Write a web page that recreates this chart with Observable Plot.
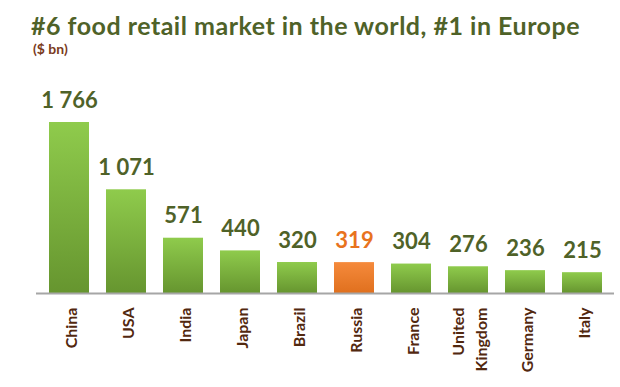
<!DOCTYPE html>
<html>
<head>
<meta charset="utf-8">
<script src="https://cdn.jsdelivr.net/npm/d3@7"></script>
<script src="https://cdn.jsdelivr.net/npm/@observablehq/plot@0.6"></script>
<style>
  html, body { margin: 0; padding: 0; background: #fff; }
  #wrap { position: relative; width: 620px; height: 387px; font-family: Lato, "Open Sans", sans-serif; }
  #title { position: absolute; left: 31px; top: 13px; font-size: 25px; line-height: 25px; letter-spacing: 0.5px; font-weight: bold; color: #4f6228; white-space: nowrap; }
  #sub { position: absolute; left: 33px; top: 42px; font-size: 14px; line-height: 14px; font-weight: bold; color: #7a3a1c; }
  #chart { position: absolute; left: 0; top: 60px; }
</style>
</head>
<body>
<div id="wrap">
  <div id="title">#6 food retail market in the world, #1 in Europe</div>
  <div id="sub">($ bn)</div>
  <div id="chart"></div>
</div>
<script>
const countries = ["China", "USA", "India", "Japan", "Brazil", "Russia", "France", "United Kingdom", "Germany", "Italy"];
const tickLabels = ["China", "USA", "India", "Japan", "Brazil", "Russia", "France", "United\nKingdom", "Germany", "Italy"];
const values = [1766, 1071, 571, 440, 320, 319, 304, 276, 236, 215];
const highlight = "Russia";

const data = countries.map((c, i) => ({country: c, value: values[i]}));
const fmt = v => d3.format(",")(v).replace(/,/g, " ");

const isHi = d => d.country === highlight;
const notHi = d => d.country !== highlight;

const chart = Plot.plot({
  width: 620,
  height: 327,
  marginLeft: 36,
  marginRight: 6,
  marginTop: 62,
  marginBottom: 94,
  style: {fontFamily: "Lato, 'Open Sans', sans-serif", background: "transparent"},
  x: {domain: countries, paddingInner: 0.3, paddingOuter: 0.15, axis: null},
  y: {domain: [0, 1766], axis: null},
  marks: [
    Plot.barY(data, {filter: notHi, x: "country", y: "value", fill: "url(#gGreen)"}),
    Plot.barY(data, {filter: isHi, x: "country", y: "value", fill: "url(#gOrange)"}),
    Plot.ruleY([0], {stroke: "#a6a6a6", strokeWidth: 2}),
    Plot.text(data, {filter: notHi, x: "country", y: "value", text: d => fmt(d.value), dy: -15, lineAnchor: "bottom", fontSize: 22, fontWeight: "bold", fill: "#4f6228"}),
    Plot.text(data, {filter: isHi, x: "country", y: "value", text: d => fmt(d.value), dy: -15, lineAnchor: "bottom", fontSize: 22, fontWeight: "bold", fill: "#e8731e"}),
    Plot.axisX({
      tickRotate: -90,
      tickSize: 0,
      tickPadding: 14,
      fontSize: 16,
      fontWeight: "bold",
      fill: "#52280f",
      lineHeight: 1.4,
      label: null,
      tickFormat: d => tickLabels[countries.indexOf(d)]
    })
  ]
});

const svg = d3.select(chart);
const defs = svg.insert("defs", ":first-child");
const g1 = defs.append("linearGradient").attr("id", "gGreen").attr("x1", 0).attr("y1", 0).attr("x2", 0).attr("y2", 1);
g1.append("stop").attr("offset", "0%").attr("stop-color", "#8fcb4c");
g1.append("stop").attr("offset", "100%").attr("stop-color", "#66952f");
const g2 = defs.append("linearGradient").attr("id", "gOrange").attr("x1", 0).attr("y1", 0).attr("x2", 0).attr("y2", 1);
g2.append("stop").attr("offset", "0%").attr("stop-color", "#f58a3c");
g2.append("stop").attr("offset", "100%").attr("stop-color", "#e0701e");

document.getElementById("chart").appendChild(chart);
</script>
</body>
</html>
